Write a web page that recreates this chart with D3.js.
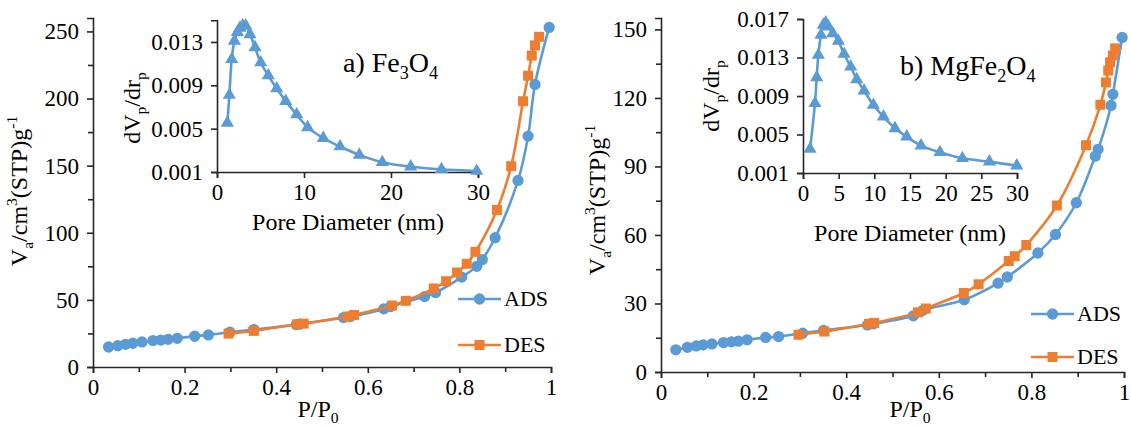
<!DOCTYPE html>
<html>
<head>
<meta charset="utf-8">
<script src="https://cdn.jsdelivr.net/npm/d3@7/dist/d3.min.js"></script>
<style>
  body { margin: 0; background: #fff; }
  svg text { font-family: "Liberation Serif", "Times New Roman", serif !important; fill: #000; }
</style>
</head>
<body>
<div id="grafico"></div>
<script>
// ---- data: panel a) Fe3O4 isotherm [P/P0, Va] ----
const fe3o4Ads = [
  [0.034, 14.9], [0.054, 15.9], [0.071, 16.9], [0.087, 17.7], [0.107, 18.7],
  [0.131, 19.7], [0.148, 20.1], [0.164, 20.6], [0.184, 21.4], [0.222, 22.9],
  [0.252, 23.9], [0.299, 25.9], [0.351, 27.9], [0.444, 31.6], [0.452, 32.0],
  [0.547, 36.8], [0.562, 37.6], [0.635, 43.3], [0.650, 45.0], [0.724, 52.5],
  [0.748, 55.5], [0.805, 67.0], [0.838, 75.0], [0.850, 80.0], [0.878, 96.3],
  [0.928, 139], [0.950, 172], [0.965, 210.5], [0.996, 253]
];
const fe3o4Des = [
  [0.296, 24.9], [0.351, 26.9], [0.446, 31.8], [0.460, 32.3], [0.556, 37.6],
  [0.570, 38.8], [0.653, 45.8], [0.683, 49.3], [0.744, 58.5], [0.771, 63.9],
  [0.795, 70.4], [0.816, 76.9], [0.835, 85.8], [0.882, 117], [0.913, 149.6],
  [0.939, 198], [0.950, 217], [0.958, 232], [0.965, 239.6], [0.974, 246]
];
// pore size distribution [nm, dVp/drp]
const fe3o4Psd = [
  [1.19, 0.00553], [1.42, 0.0081], [1.69, 0.0114], [2.0, 0.0131], [2.34, 0.0139],
  [2.64, 0.0143], [2.95, 0.0145], [3.3, 0.0145], [3.79, 0.0137], [4.37, 0.0125],
  [5.02, 0.0111], [5.9, 0.0099], [6.86, 0.0087], [7.9, 0.00754], [9.16, 0.0063],
  [10.42, 0.00512], [12.22, 0.00413], [14.14, 0.00335], [16.36, 0.00258],
  [19.0, 0.0019], [22.26, 0.00149], [25.8, 0.00125], [29.85, 0.00109]
];

// ---- data: panel b) MgFe2O4 ----
const mgfe2o4Ads = [
  [0.032, 9.7], [0.057, 10.8], [0.076, 11.4], [0.091, 11.9], [0.110, 12.3],
  [0.135, 12.9], [0.152, 13.2], [0.167, 13.5], [0.186, 14.1], [0.226, 15.1],
  [0.254, 15.5], [0.306, 17.0], [0.351, 18.2], [0.446, 20.6], [0.459, 21.1],
  [0.545, 24.6], [0.566, 27.0], [0.655, 31.6], [0.728, 38.9], [0.748, 41.6],
  [0.814, 52.1], [0.852, 60.2], [0.897, 74.1], [0.938, 94.5], [0.944, 97.5],
  [0.972, 116.7], [0.976, 121.6], [0.996, 146.5]
];
const mgfe2o4Des = [
  [0.297, 16.3], [0.353, 17.7], [0.449, 21.1], [0.460, 21.5], [0.555, 26.1],
  [0.572, 27.8], [0.654, 34.6], [0.686, 38.4], [0.751, 48.6], [0.764, 50.7],
  [0.789, 55.6], [0.855, 72.9], [0.918, 99.3], [0.949, 117], [0.961, 126.8],
  [0.966, 132], [0.970, 135.6], [0.976, 138.6], [0.981, 141.7]
];
const mgfe2o4Psd = [
  [0.98, 0.00349], [1.68, 0.00824], [1.92, 0.01094], [2.15, 0.01326], [2.52, 0.01534],
  [2.85, 0.01638], [3.18, 0.01662], [3.55, 0.0162], [4.17, 0.01551], [4.96, 0.01471],
  [5.75, 0.01336], [6.69, 0.01204], [7.53, 0.01073], [8.56, 0.00955], [9.87, 0.00806],
  [11.27, 0.00685], [12.9, 0.00564], [14.54, 0.00477], [16.55, 0.00384],
  [19.2, 0.00315], [22.34, 0.00253], [26.13, 0.00218], [29.97, 0.00176]
];

// ---- ticks ----
const isoXTicks = [0, 0.2, 0.4, 0.6, 0.8, 1];
const isoXMinor = [0.1, 0.3, 0.5, 0.7, 0.9];
const aYTicks = [0, 50, 100, 150, 200, 250];
const aYMinor = [25, 75, 125, 175, 225];
const bYTicks = [0, 30, 60, 90, 120, 150];
const bYMinor = [15, 45, 75, 105, 135];
const aPsdXTicks = [0, 10, 20, 30];
const aPsdYTicks = [0.001, 0.005, 0.009, 0.013];
const bPsdXTicks = [0, 5, 10, 15, 20, 25, 30];
const bPsdYTicks = [0.001, 0.005, 0.009, 0.013, 0.017];
const seriesNames = ["ADS", "DES"];

const blue = "#5b9bd5";
const orange = "#ed7d31";
const ink = "#262626";
const tickFont = 23;

const svg = d3.select("#grafico")
              .append("svg")
              .attr("width", 1131)
              .attr("height", 428);

function axes(x, y, o) {
    const base = y.range()[0], left = x.range()[0];
    const groups = [];
    groups.push(svg.append("g")
                   .attr("transform", `translate(0, ${base})`)
                   .call(d3.axisBottom(x).tickValues(o.xTicks).tickSizeOuter(0)
                           .tickSize(6).tickPadding(6).tickFormat(o.xFmt)));
    groups.push(svg.append("g")
                   .attr("transform", `translate(${left}, 0)`)
                   .call(d3.axisLeft(y).tickValues(o.yTicks).tickSizeOuter(0)
                           .tickSize(6).tickPadding(8).tickFormat(o.yFmt)));
    if (o.xMinor) {
        const g = svg.append("g")
                     .attr("transform", `translate(0, ${base})`)
                     .call(d3.axisBottom(x).tickValues(o.xMinor).tickSize(5).tickFormat(""));
        g.select(".domain").remove();
        groups.push(g);
    }
    if (o.yMinor) {
        const g = svg.append("g")
                     .attr("transform", `translate(${left}, 0)`)
                     .call(d3.axisLeft(y).tickValues(o.yMinor).tickSize(5).tickFormat(""));
        g.select(".domain").remove();
        groups.push(g);
    }
    groups.forEach(g => {
        g.attr("font-family", null).attr("font-size", tickFont);
        g.selectAll("path, line").attr("stroke", ink).attr("stroke-width", 1.6);
    });
}

function series(x, y, data, color, shape) {
    const line = d3.line()
                   .x(d => x(d[0]))
                   .y(d => y(d[1]))
                   .curve(d3.curveCatmullRom.alpha(0.5));
    svg.append("path")
       .datum(data)
       .attr("d", line)
       .attr("fill", "none")
       .attr("stroke", color)
       .attr("stroke-width", 2.6);
    svg.append("g")
       .selectAll("path")
       .data(data)
       .join("path")
       .attr("transform", d => `translate(${x(d[0])}, ${y(d[1])})`)
       .attr("d", d3.symbol().type(shape).size(shape === d3.symbolTriangle ? 75 : 100))
       .attr("fill", color);
}

function legendItem(lx, ly, color, shape, label) {
    svg.append("line")
       .attr("x1", lx).attr("x2", lx + 43)
       .attr("y1", ly).attr("y2", ly)
       .attr("stroke", color).attr("stroke-width", 2.6);
    svg.append("path")
       .attr("transform", `translate(${lx + 21.5}, ${ly})`)
       .attr("d", d3.symbol().type(shape).size(100))
       .attr("fill", color);
    svg.append("text")
       .attr("x", lx + 46).attr("y", ly + 7)
       .attr("font-size", 22)
       .text(label);
}

function richText(parent, parts, size) {
    // parts: [text, "sub" | "sup" | "back-sub" | "back-sup" | null]
    const t = parent.append("text").attr("font-size", size);
    parts.forEach(([s, kind]) => {
        const ts = t.append("tspan").text(s);
        if (kind === "sub") ts.attr("font-size", size * 0.65).attr("dy", size * 0.25);
        if (kind === "sup") ts.attr("font-size", size * 0.65).attr("dy", -size * 0.4);
        if (kind === "back-sub") ts.attr("dy", -size * 0.25);
        if (kind === "back-sup") ts.attr("dy", size * 0.4);
    });
    return t;
}

const isoFmt = d => (d === 0 || d === 1) ? String(d) : d.toFixed(1);
const psdYFmt = d => d.toFixed(3);

function panel(p) {
    const x = d3.scaleLinear().domain([0, 1]).range(p.xRange);
    const y = d3.scaleLinear().domain(p.yDomain).range(p.yRange);
    axes(x, y, { xTicks: isoXTicks, xMinor: isoXMinor, yTicks: p.yTicks, yMinor: p.yMinor,
                 xFmt: isoFmt, yFmt: d3.format("d") });
    series(x, y, p.ads, blue, d3.symbolCircle);
    series(x, y, p.des, orange, d3.symbolSquare);

    const ix = d3.scaleLinear().domain([0, 30]).range(p.ixRange);
    const iy = d3.scaleLinear().domain(p.iyDomain).range(p.iyRange);
    axes(ix, iy, { xTicks: p.ixTicks, yTicks: p.iyTicks, xFmt: d3.format("d"), yFmt: psdYFmt });
    series(ix, iy, p.psd, blue, d3.symbolTriangle);

    legendItem(p.legend[0], p.legend[1], blue, d3.symbolCircle, seriesNames[0]);
    legendItem(p.legend[0], p.legend[2], orange, d3.symbolSquare, seriesNames[1]);

    // axis titles
    richText(svg, [["V", null], ["a", "sub"], ["/cm", "back-sub"], ["3", "sup"],
                   ["(STP)g", "back-sup"], ["-1", "sup"]], 24)
        .attr("text-anchor", "middle")
        .attr("transform", `translate(${p.yLab[0]}, ${p.yLab[1]}) rotate(-90)`);
    richText(svg, [["P/P", null], ["0", "sub"]], 24)
        .attr("text-anchor", "middle")
        .attr("transform", `translate(${p.xLab[0]}, ${p.xLab[1]})`);
    richText(svg, [["dV", null], ["p", "sub"], ["/dr", "back-sub"], ["p", "sub"]], 24)
        .attr("text-anchor", "middle")
        .attr("transform", `translate(${p.iyLab[0]}, ${p.iyLab[1]}) rotate(-90)`);
    richText(svg, [["Pore Diameter (nm)", null]], 24)
        .attr("text-anchor", "middle")
        .attr("transform", `translate(${p.ixLab[0]}, ${p.ixLab[1]})`);
    richText(svg, p.title, 28)
        .attr("transform", `translate(${p.titlePos[0]}, ${p.titlePos[1]})`);
}

panel({
    xRange: [93, 551], yDomain: [0, 260], yRange: [367, 18],
    yTicks: aYTicks, yMinor: aYMinor, ads: fe3o4Ads, des: fe3o4Des,
    ixRange: [217, 478], iyDomain: [0.001, 0.015], iyRange: [172, 20.3],
    ixTicks: aPsdXTicks, iyTicks: aPsdYTicks, psd: fe3o4Psd,
    legend: [458, 299, 345],
    yLab: [27, 191], xLab: [318, 417], iyLab: [140, 108], ixLab: [348, 230],
    title: [["a) Fe", null], ["3", "sub"], ["O", "back-sub"], ["4", "sub"]], titlePos: [343, 72]
});

panel({
    xRange: [661, 1124], yDomain: [0, 155], yRange: [372, 18],
    yTicks: bYTicks, yMinor: bYMinor, ads: mgfe2o4Ads, des: mgfe2o4Des,
    ixRange: [803, 1017], iyDomain: [0.001, 0.017], iyRange: [173, 19],
    ixTicks: bPsdXTicks, iyTicks: bPsdYTicks, psd: mgfe2o4Psd,
    legend: [1031, 314, 357],
    yLab: [605, 200], xLab: [910, 417], iyLab: [719, 96], ixLab: [910, 241],
    title: [["b) MgFe", null], ["2", "sub"], ["O", "back-sub"], ["4", "sub"]], titlePos: [900, 75]
});
</script>
</body>
</html>
